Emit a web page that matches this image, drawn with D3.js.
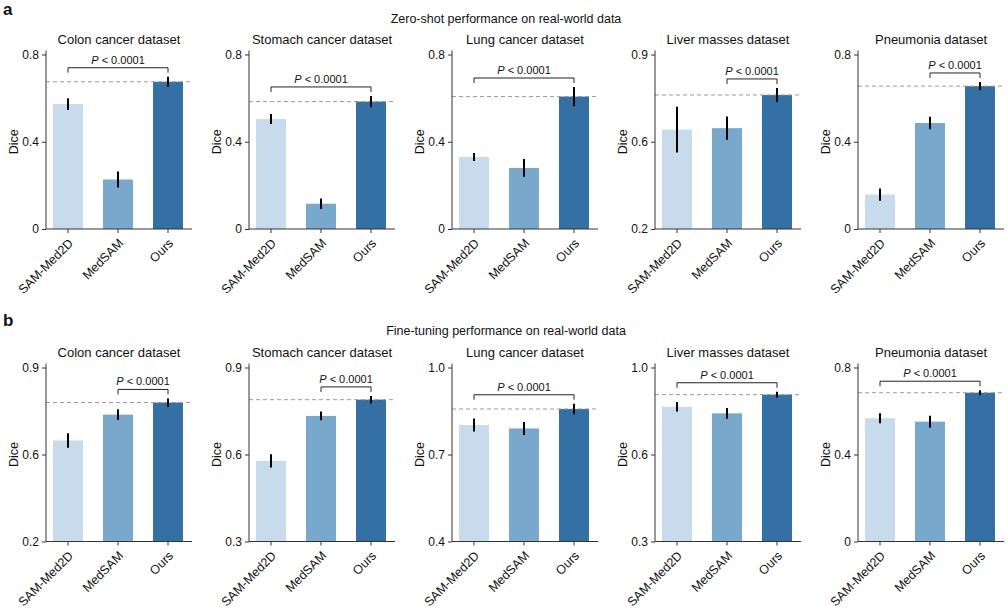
<!DOCTYPE html>
<html lang="en">
<head>
<meta charset="utf-8">
<title>Dice comparison</title>
<script src="https://cdn.jsdelivr.net/npm/d3@7"></script>
<style>
  body { margin: 0; background: #fff; }
  text { font-family: "Liberation Sans", Arial, sans-serif; fill: #111; }
  .title { font-size: 13px; }
  .row-title { font-size: 12.5px; }
  .panel-letter { font-size: 17px; font-weight: bold; }
  .tick text { font-size: 12px; }
  .xaxis .tick text { font-size: 12.5px; }
  .axis path, .axis line { stroke: #333; }
  .ptext { font-size: 11px; }
</style>
</head>
<body>
<svg width="1008" height="610"></svg>
<script>
const models = ["SAM-Med2D", "MedSAM", "Ours"];
const datasets = ["Colon cancer dataset", "Stomach cancer dataset", "Lung cancer dataset",
                  "Liver masses dataset", "Pneumonia dataset"];
const colors = ["#c8dbec", "#78a8cb", "#3470a4"];

// a: zero-shot
const zeroShotDice = [[0.573, 0.227, 0.675], [0.504, 0.116, 0.584], [0.330, 0.280, 0.607],
                      [0.610, 0.616, 0.753], [0.158, 0.486, 0.655]];
const zeroShotErr = [[0.027, 0.037, 0.023], [0.023, 0.024, 0.026], [0.018, 0.041, 0.044],
                     [0.094, 0.048, 0.029], [0.028, 0.029, 0.019]];
const zeroShotDomain = [[0, 0.8], [0, 0.8], [0, 0.8], [0.2, 0.92], [0, 0.8]];
const zeroShotTicks = [["0", "0.4", "0.8"], ["0", "0.4", "0.8"], ["0", "0.4", "0.8"],
                       ["0.2", "0.6", "0.9"], ["0", "0.4", "0.8"]];
const zeroShotPairs = [[0, 2], [0, 2], [0, 2], [1, 2], [1, 2]];

// b: fine-tuning
const fineTuneDice = [[0.618, 0.725, 0.775], [0.578, 0.733, 0.789], [0.802, 0.790, 0.857],
                      [0.811, 0.786, 0.857], [0.567, 0.551, 0.684]];
const fineTuneErr = [[0.030, 0.022, 0.017], [0.023, 0.015, 0.013], [0.0225, 0.0225, 0.018],
                     [0.018, 0.020, 0.011], [0.023, 0.0275, 0.0115]];
const fineTuneDomain = [[0.2, 0.92], [0.3, 0.9], [0.4, 1.0], [0.3, 0.96], [0, 0.8]];
const fineTuneTicks = [["0.2", "0.6", "0.9"], ["0.3", "0.6", "0.9"], ["0.4", "0.7", "1.0"],
                       ["0.3", "0.6", "1.0"], ["0", "0.4", "0.8"]];
const fineTunePairs = [[1, 2], [1, 2], [0, 2], [0, 2], [0, 2]];

const svg = d3.select("svg");

const rows = [
  { letter: "a", title: "Zero-shot performance on real-world data", titleY: 23, letterY: 15,
    yTop: 54.5, yBot: 229, dice: zeroShotDice, err: zeroShotErr, domain: zeroShotDomain,
    ticks: zeroShotTicks, pairs: zeroShotPairs },
  { letter: "b", title: "Fine-tuning performance on real-world data", titleY: 335, letterY: 326,
    yTop: 367.5, yBot: 541.5, dice: fineTuneDice, err: fineTuneErr, domain: fineTuneDomain,
    ticks: fineTuneTicks, pairs: fineTunePairs }
];

const panelStep = 203, left0 = 46, axisW = 146;

rows.forEach(row => {
  svg.append("text").attr("class", "panel-letter").attr("x", 3).attr("y", row.letterY).text(row.letter);
  svg.append("text").attr("class", "row-title").attr("x", 506).attr("y", row.titleY)
    .attr("text-anchor", "middle").text(row.title);

  datasets.forEach((name, i) => {
    const x0 = left0 + panelStep * i;
    const [lo, hi] = row.domain[i];
    const y = d3.scaleLinear().domain([lo, hi]).range([row.yBot, row.yTop]);
    const x = d3.scaleBand().domain(models).range([x0 - 3, x0 + 147])
      .paddingInner(0.4).paddingOuter(0.2);
    const g = svg.append("g");
    const data = models.map((m, j) => ({ m, v: row.dice[i][j], e: row.err[i][j], c: colors[j] }));

    g.append("text").attr("class", "title").attr("x", x0 + axisW / 2).attr("y", row.yTop - 11)
      .attr("text-anchor", "middle").text(name);

    // bars
    g.selectAll("rect").data(data).join("rect")
      .attr("x", d => x(d.m)).attr("width", x.bandwidth())
      .attr("y", d => y(d.v)).attr("height", d => row.yBot - y(d.v))
      .attr("fill", d => d.c);

    // dashed reference at "Ours"
    const ours = row.dice[i][2];
    g.append("line").attr("x1", x0).attr("x2", x0 + axisW)
      .attr("y1", y(ours)).attr("y2", y(ours))
      .attr("stroke", "#999").attr("stroke-width", 1).attr("stroke-dasharray", "4,3");

    // error bars
    g.selectAll(".err").data(data).join("line").attr("class", "err")
      .attr("x1", d => x(d.m) + x.bandwidth() / 2).attr("x2", d => x(d.m) + x.bandwidth() / 2)
      .attr("y1", d => y(d.v - d.e)).attr("y2", d => y(d.v + d.e))
      .attr("stroke", "#000").attr("stroke-width", 2);

    // axes
    const mid = (lo + hi) / 2;
    const ya = g.append("g").attr("class", "axis").attr("transform", `translate(${x0},0)`)
      .call(d3.axisLeft(y).tickValues([lo, mid, hi]).tickFormat((d, k) => row.ticks[i][k])
        .tickSize(4).tickPadding(3));
    ya.select(".domain").remove();
    g.append("line").attr("x1", x0).attr("x2", x0).attr("y1", row.yTop - 4).attr("y2", row.yBot)
      .attr("stroke", "#333");

    const xa = g.append("g").attr("class", "axis xaxis").attr("transform", `translate(0,${row.yBot})`)
      .call(d3.axisBottom(x).tickSize(4).tickSizeOuter(0));
    xa.select(".domain").remove();
    xa.selectAll(".tick text")
      .attr("text-anchor", "end").attr("dy", null).attr("y", 0)
      .attr("transform", "translate(6,15) rotate(-45)");
    g.append("line").attr("x1", x0).attr("x2", x0 + axisW).attr("y1", row.yBot).attr("y2", row.yBot)
      .attr("stroke", "#333");

    g.append("text").attr("transform", `translate(${x0 - 28},${(row.yTop + row.yBot) / 2}) rotate(-90)`)
      .attr("text-anchor", "middle").style("font-size", "12.5px").text("Dice");

    // significance bracket
    const [a, b] = row.pairs[i];
    const top = d3.max([a, b], j => row.dice[i][j] + row.err[i][j]);
    const by = y(top) - 9;
    const xa1 = x(models[a]) + x.bandwidth() / 2, xb1 = x(models[b]) + x.bandwidth() / 2;
    g.append("path").attr("d", `M${xa1},${by + 5}V${by}H${xb1}V${by + 5}`)
      .attr("fill", "none").attr("stroke", "#222").attr("stroke-width", 1);
    const pt = g.append("text").attr("class", "ptext").attr("x", (xa1 + xb1) / 2).attr("y", by - 4)
      .attr("text-anchor", "middle");
    pt.append("tspan").style("font-style", "italic").text("P");
    pt.append("tspan").text(" < 0.0001");
  });
});
</script>
</body>
</html>
